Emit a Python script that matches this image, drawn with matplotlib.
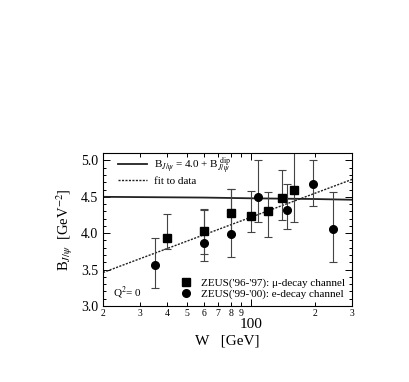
import matplotlib
matplotlib.use("Agg")
import matplotlib.pyplot as plt
import numpy as np
from matplotlib.ticker import FixedLocator, FixedFormatter, NullFormatter, MultipleLocator

plt.rcParams['font.family'] = ['Liberation Serif', 'DejaVu Serif']
plt.rcParams['mathtext.fontset'] = 'stix'

# ZEUS '96-'97 mu-decay (squares)
w_mu = [40, 60, 80, 100, 120, 140, 160]
b_mu = [3.94, 4.03, 4.28, 4.23, 4.30, 4.48, 4.60]
e_mu_up = [0.33, 0.30, 0.33, 0.35, 0.26, 0.39, 0.53]
e_mu_dn = [0.16, 0.32, 0.30, 0.21, 0.35, 0.30, 0.44]

# ZEUS '99-'00 e-decay (circles)
w_e = [35, 60, 80, 108, 147, 196, 243]
b_e = [3.56, 3.87, 3.99, 4.50, 4.32, 4.67, 4.06]
e_e_up = [0.37, 0.45, 0.62, 0.50, 0.36, 0.33, 0.51]
e_e_dn = [0.31, 0.25, 0.32, 0.34, 0.26, 0.29, 0.45]

# model curve B = 4.0 + B_dip
w_model = [20, 60, 100, 200, 300]
b_model = [4.50, 4.49, 4.48, 4.47, 4.46]

# fit to data
w_fit = [20, 300]
b_fit = [3.46, 4.74]

fig = plt.figure(figsize=(4.09, 3.82), dpi=100)
ax = fig.add_axes([0.252, 0.199, 0.609, 0.400])

ax.plot(w_model, b_model, color='#222222', lw=1.3)
ax.plot(w_fit, b_fit, color='#222222', lw=1.0, ls=(0, (1.5, 1)))

ax.errorbar(w_mu, b_mu, yerr=[e_mu_dn, e_mu_up], fmt='s', color='black', ms=5.5,
            ecolor='#444444', elinewidth=0.8, capsize=3, capthick=0.8)
ax.errorbar(w_e, b_e, yerr=[e_e_dn, e_e_up], fmt='o', color='black', ms=5.5,
            ecolor='#444444', elinewidth=0.8, capsize=3, capthick=0.8)

ax.set_xscale('log')
ax.set_xlim(20, 300)
ax.set_ylim(3.0, 5.1)

ax.xaxis.set_major_locator(FixedLocator([100]))
ax.xaxis.set_major_formatter(FixedFormatter(['100']))
minor = [20, 30, 40, 50, 60, 70, 80, 90, 200, 300]
ax.xaxis.set_minor_locator(FixedLocator(minor))
ax.xaxis.set_minor_formatter(FixedFormatter(['2', '3', '4', '5', '6', '7', '8', '9', '2', '3']))
ax.tick_params(axis='x', which='minor', labelsize=7, length=3, pad=2)
ax.tick_params(axis='x', which='major', labelsize=11, length=5, pad=9)

ax.yaxis.set_major_locator(MultipleLocator(0.5))
ax.yaxis.set_minor_locator(MultipleLocator(0.1))
ax.yaxis.set_major_formatter(matplotlib.ticker.FormatStrFormatter('%.1f'))
ax.tick_params(axis='y', which='major', labelsize=10, length=5)
ax.tick_params(axis='y', which='minor', length=2.5)
ax.tick_params(which='both', direction='in', top=True, right=True, width=0.7)
for s in ax.spines.values():
    s.set_linewidth(0.8)

ax.set_xlabel('W   [GeV]', fontsize=11, labelpad=2)
ax.set_ylabel(r'B$_{J/\psi}$  [GeV$^{-2}$]', fontsize=10.5, labelpad=4)

from matplotlib.lines import Line2D
h1 = [Line2D([], [], color='#222222', lw=1.3),
      Line2D([], [], color='#222222', lw=1.0, ls=(0, (1.5, 1)))]
leg1 = ax.legend(h1, [r'B$_{J/\psi}$ = 4.0 + B$_{J/\psi}^{\ \mathrm{dip}}$', 'fit to data'],
                 loc='upper left', bbox_to_anchor=(0.03, 1.04), frameon=False, fontsize=8,
                 handlelength=2.6, borderaxespad=0.3, labelspacing=0.05, handletextpad=0.6)
ax.add_artist(leg1)
h2 = [Line2D([], [], marker='s', color='black', ls='none', ms=5.5),
      Line2D([], [], marker='o', color='black', ls='none', ms=5.5)]
ax.legend(h2, ["ZEUS('96-'97): \u03bc-decay channel", "ZEUS('99-'00): e-decay channel"],
          loc='lower right', frameon=False, fontsize=8, borderaxespad=0.2,
          labelspacing=0.1, handletextpad=0.6, handlelength=1.5)
ax.text(0.04, 0.06, r'Q$^2$= 0', transform=ax.transAxes, fontsize=8)

fig.savefig('out.png', dpi=100)
